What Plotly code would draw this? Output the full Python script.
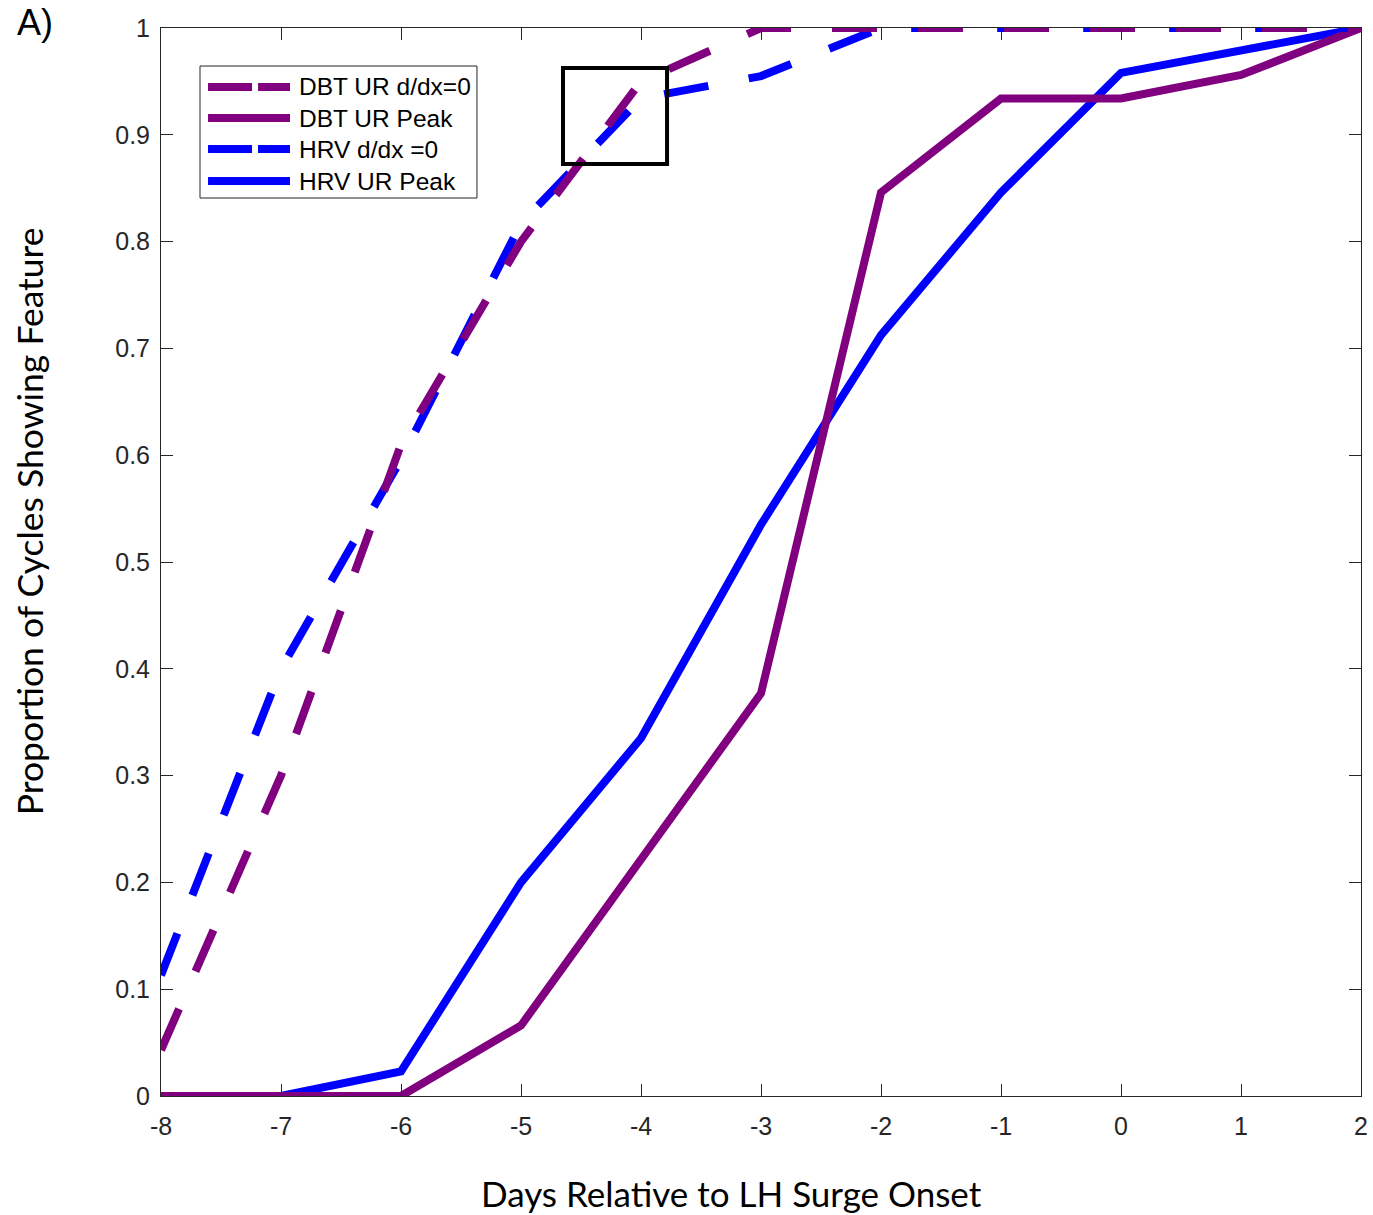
import plotly.graph_objects as go

days = [-8, -7, -6, -5, -4, -3, -2, -1, 0, 1, 2]

dbt_dxdx0 = [0.043, 0.30, 0.61, 0.80, 0.95, 1.0, 1.0, 1.0, 1.0, 1.0, 1.0]
dbt_peak = [0.0, 0.0, 0.0, 0.066, 0.222, 0.377, 0.846, 0.934, 0.934, 0.956, 1.0]
hrv_dxdx0 = [0.113, 0.40, 0.596, 0.817, 0.934, 0.955, 1.0, 1.0, 1.0, 1.0, 1.0]
hrv_peak = [0.0, 0.0, 0.023, 0.20, 0.335, 0.535, 0.7125, 0.846, 0.958, 0.979, 1.0]

names = ["DBT UR d/dx=0", "DBT UR Peak", "HRV d/dx =0", "HRV UR Peak"]
series = [dbt_dxdx0, dbt_peak, hrv_dxdx0, hrv_peak]
colors = ["#800080", "#800080", "#0000FF", "#0000FF"]
dashes = ["45px,41px", "solid", "45px,41px", "solid"]
legend_dashes = ["44px,6px", "solid", "44px,6px", "solid"]

y_ticks = [0, 0.1, 0.2, 0.3, 0.4, 0.5, 0.6, 0.7, 0.8, 0.9, 1]
y_ticktext = ["0", "0.1", "0.2", "0.3", "0.4", "0.5", "0.6", "0.7", "0.8", "0.9", "1"]
x_ticks = days

x_title = "Days Relative to LH Surge Onset"
y_title = "Proportion of Cycles Showing Feature"

fig = go.Figure()
order = [3, 1, 2, 0]
for i in order:
    fig.add_trace(go.Scatter(
        x=days, y=series[i], mode="lines", name=names[i],
        line=dict(color=colors[i], width=8, dash=dashes[i]),
        showlegend=False, cliponaxis=False,
    ))

tickfont = dict(family="Liberation Sans, Arial", size=25, color="#262626")
axis_common = dict(
    showgrid=False, zeroline=False, showline=True, linecolor="#262626", linewidth=1,
    mirror="allticks", ticks="inside", ticklen=12, tickcolor="#262626", tickwidth=1,
    tickfont=tickfont, automargin=False,
)

fig.update_layout(
    width=1373, height=1215,
    margin=dict(l=161, r=12, t=28, b=119),
    plot_bgcolor="white", paper_bgcolor="white",
    xaxis=dict(range=[-8, 2], tickvals=x_ticks, ticktext=[str(v) for v in x_ticks],
               ticklabelstandoff=8, **axis_common),
    yaxis=dict(range=[0, 1], tickvals=y_ticks, ticktext=y_ticktext,
               ticklabelstandoff=5, **axis_common),
)

# axis titles (offset from centre as in the original figure)
fig.add_annotation(xref="paper", yref="paper", x=0.475, y=-0.0908, text=x_title,
                   showarrow=False, xanchor="center", yanchor="middle",
                   font=dict(family="Lato", size=35, color="black"))
fig.add_annotation(xref="paper", yref="paper", x=-0.109, y=0.5384, text=y_title,
                   showarrow=False, xanchor="center", yanchor="middle", textangle=-90,
                   font=dict(family="Lato", size=35.5, color="black"))

# zoom box marker
fig.add_shape(type="rect", xref="x", yref="y", x0=-4.65, x1=-3.783, y0=0.8727, y1=0.9625,
              line=dict(color="black", width=4), fillcolor="rgba(0,0,0,0)")

# custom legend
fig.add_shape(type="rect", xref="paper", yref="paper", x0=0.0325, x1=0.2633, y0=0.8408, y1=0.9644,
              line=dict(color="#262626", width=1), fillcolor="white", layer="above")
row_y = [0.9448, 0.9157, 0.8867, 0.8567]
for i in range(4):
    fig.add_shape(type="line", xref="paper", yref="paper", x0=0.0392, x1=0.1075,
                  y0=row_y[i], y1=row_y[i], layer="above",
                  line=dict(color=colors[i], width=8, dash=legend_dashes[i]))
    fig.add_annotation(xref="paper", yref="paper", x=0.1133, y=row_y[i], text=names[i],
                       showarrow=False, xanchor="left", yanchor="middle",
                       font=dict(family="Liberation Sans, Arial", size=24.5, color="black"))

fig.add_annotation(xref="paper", yref="paper", x=-0.105, y=1.0056, text="A)", showarrow=False,
                   xanchor="center", yanchor="middle",
                   font=dict(family="Liberation Sans, Arial", size=36, color="black"))

fig.write_html("out.html", config={"displayModeBar": False},
               post_script="document.body.style.margin='0';document.body.style.overflow='hidden';")
